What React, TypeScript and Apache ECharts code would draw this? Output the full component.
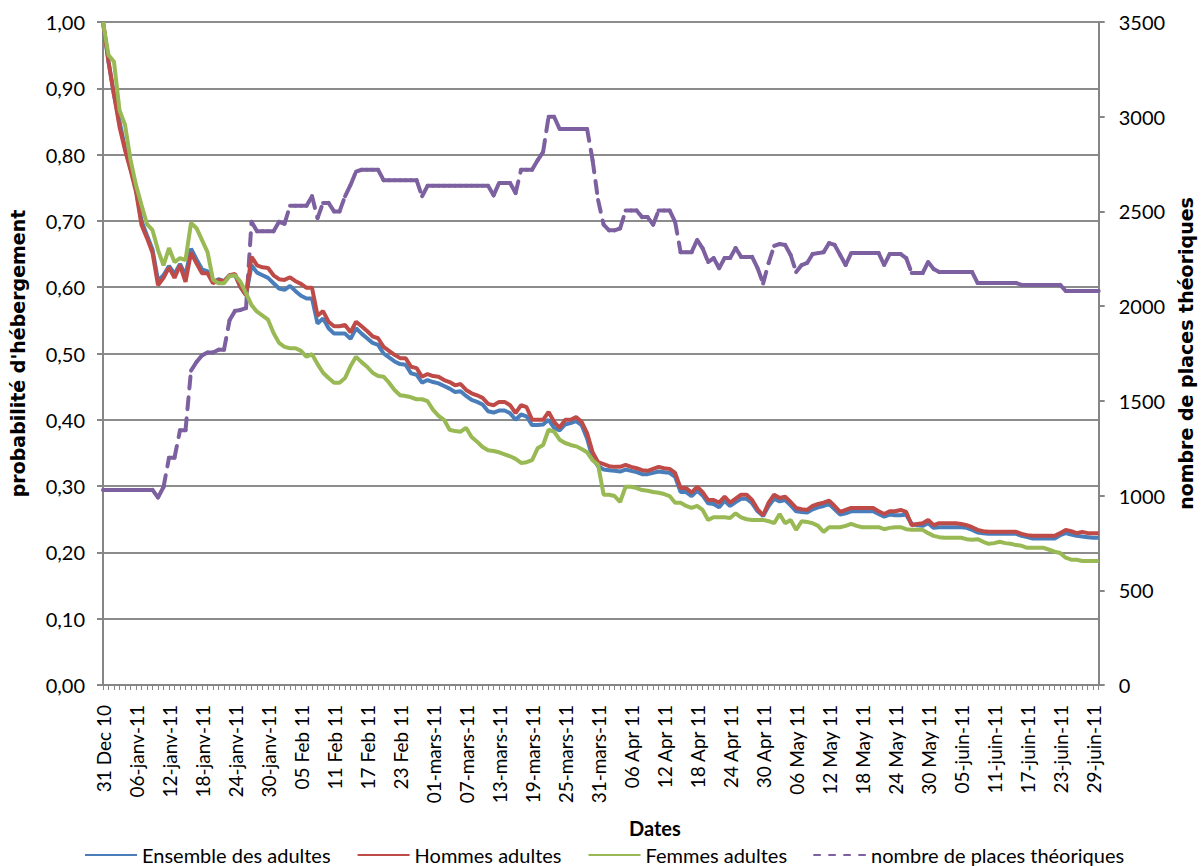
import React, { useEffect, useRef } from "react";
import * as echarts from "echarts";

const tickLabels = [
  "31 Dec 10", "06-janv-11", "12-janv-11", "18-janv-11", "24-janv-11", "30-janv-11",
  "05 Feb 11", "11 Feb 11", "17 Feb 11", "23 Feb 11", "01-mars-11", "07-mars-11",
  "13-mars-11", "19-mars-11", "25-mars-11", "31-mars-11", "06 Apr 11", "12 Apr 11",
  "18 Apr 11", "24 Apr 11", "30 Apr 11", "06 May 11", "12 May 11", "18 May 11",
  "24 May 11", "30 May 11", "05-juin-11", "11-juin-11", "17-juin-11", "23-juin-11",
  "29-juin-11",
];

const ensemble = [
  1.00, 0.94, 0.89, 0.85, 0.81, 0.78, 0.748, 0.70, 0.678, 0.657,
  0.61, 0.618, 0.632, 0.62, 0.635, 0.618, 0.658, 0.642, 0.627, 0.624,
  0.608, 0.612, 0.609, 0.618, 0.618, 0.600, 0.588, 0.633, 0.622, 0.618,
  0.614, 0.606, 0.598, 0.596, 0.602, 0.594, 0.587, 0.583, 0.583, 0.545,
  0.553, 0.538, 0.530, 0.530, 0.530, 0.522, 0.538, 0.530, 0.523, 0.516,
  0.513, 0.500, 0.494, 0.488, 0.484, 0.483, 0.470, 0.468, 0.456, 0.460,
  0.457, 0.455, 0.451, 0.447, 0.442, 0.443, 0.436, 0.430, 0.427, 0.423,
  0.413, 0.411, 0.414, 0.414, 0.410, 0.400, 0.408, 0.405, 0.392, 0.392,
  0.393, 0.400, 0.388, 0.384, 0.393, 0.395, 0.398, 0.392, 0.372, 0.342,
  0.330, 0.325, 0.324, 0.323, 0.322, 0.325, 0.323, 0.321, 0.318, 0.318,
  0.320, 0.322, 0.321, 0.320, 0.314, 0.291, 0.291, 0.285, 0.293, 0.286,
  0.274, 0.273, 0.268, 0.278, 0.270, 0.276, 0.281, 0.281, 0.274, 0.262,
  0.255, 0.270, 0.281, 0.277, 0.279, 0.271, 0.262, 0.261, 0.260, 0.265,
  0.268, 0.270, 0.273, 0.265, 0.257, 0.259, 0.262, 0.262, 0.262, 0.262,
  0.262, 0.258, 0.254, 0.257, 0.256, 0.256, 0.257, 0.243, 0.241, 0.240,
  0.244, 0.237, 0.238, 0.238, 0.238, 0.238, 0.238, 0.237, 0.234, 0.230,
  0.229, 0.228, 0.228, 0.228, 0.228, 0.228, 0.228, 0.225, 0.223, 0.221,
  0.221, 0.221, 0.221, 0.221, 0.226, 0.229, 0.227, 0.225, 0.224, 0.223,
  0.222, 0.222,
];

const hommes = [
  1.00, 0.94, 0.89, 0.842, 0.807, 0.777, 0.744, 0.694, 0.674, 0.652,
  0.603, 0.614, 0.630, 0.614, 0.633, 0.608, 0.652, 0.636, 0.621, 0.621,
  0.606, 0.611, 0.609, 0.618, 0.620, 0.600, 0.588, 0.646, 0.633, 0.630,
  0.629, 0.618, 0.612, 0.611, 0.615, 0.609, 0.605, 0.599, 0.599, 0.557,
  0.564, 0.548, 0.541, 0.541, 0.543, 0.532, 0.548, 0.541, 0.534, 0.526,
  0.523, 0.510, 0.504, 0.498, 0.493, 0.493, 0.480, 0.478, 0.465, 0.469,
  0.466, 0.465, 0.460, 0.457, 0.452, 0.454, 0.445, 0.440, 0.437, 0.433,
  0.424, 0.422, 0.427, 0.427, 0.422, 0.410, 0.422, 0.419, 0.400, 0.400,
  0.400, 0.412, 0.397, 0.388, 0.400, 0.400, 0.404, 0.397, 0.380, 0.351,
  0.336, 0.333, 0.330, 0.329, 0.329, 0.332, 0.329, 0.327, 0.324, 0.323,
  0.326, 0.329, 0.327, 0.326, 0.320, 0.297, 0.297, 0.290, 0.299, 0.291,
  0.279, 0.279, 0.275, 0.284, 0.275, 0.281, 0.287, 0.287, 0.279, 0.265,
  0.256, 0.275, 0.287, 0.282, 0.284, 0.276, 0.267, 0.265, 0.264, 0.270,
  0.273, 0.275, 0.278, 0.270, 0.261, 0.264, 0.267, 0.267, 0.267, 0.267,
  0.267, 0.262, 0.258, 0.262, 0.262, 0.264, 0.261, 0.241, 0.243, 0.244,
  0.249, 0.241, 0.244, 0.244, 0.244, 0.244, 0.243, 0.241, 0.238, 0.234,
  0.232, 0.231, 0.231, 0.231, 0.231, 0.231, 0.231, 0.228, 0.226, 0.225,
  0.225, 0.225, 0.225, 0.225, 0.229, 0.234, 0.232, 0.229, 0.231, 0.229,
  0.229, 0.229,
];

const femmes = [
  1.00, 0.95, 0.94, 0.867, 0.845, 0.792, 0.754, 0.724, 0.695, 0.686,
  0.656, 0.633, 0.659, 0.638, 0.644, 0.641, 0.697, 0.689, 0.671, 0.653,
  0.611, 0.606, 0.606, 0.617, 0.618, 0.608, 0.591, 0.573, 0.563, 0.557,
  0.551, 0.531, 0.516, 0.510, 0.508, 0.508, 0.504, 0.495, 0.499, 0.484,
  0.471, 0.463, 0.456, 0.456, 0.463, 0.481, 0.495, 0.487, 0.480, 0.471,
  0.466, 0.465, 0.456, 0.445, 0.437, 0.436, 0.434, 0.431, 0.431, 0.428,
  0.415, 0.406, 0.400, 0.385, 0.383, 0.382, 0.388, 0.374, 0.367, 0.359,
  0.354, 0.353, 0.351, 0.348, 0.345, 0.341, 0.335, 0.336, 0.339, 0.357,
  0.362, 0.385, 0.382, 0.370, 0.365, 0.362, 0.360, 0.356, 0.351, 0.339,
  0.332, 0.287, 0.287, 0.285, 0.276, 0.299, 0.299, 0.297, 0.294, 0.293,
  0.291, 0.290, 0.288, 0.285, 0.275, 0.275, 0.270, 0.267, 0.270, 0.264,
  0.249, 0.253, 0.253, 0.253, 0.252, 0.259, 0.253, 0.250, 0.249, 0.249,
  0.249, 0.247, 0.244, 0.258, 0.244, 0.249, 0.234, 0.247, 0.246, 0.244,
  0.240, 0.231, 0.238, 0.238, 0.238, 0.240, 0.243, 0.240, 0.238, 0.238,
  0.238, 0.238, 0.235, 0.237, 0.238, 0.238, 0.235, 0.234, 0.234, 0.234,
  0.229, 0.225, 0.223, 0.222, 0.222, 0.222, 0.222, 0.220, 0.219, 0.220,
  0.216, 0.213, 0.214, 0.216, 0.214, 0.213, 0.211, 0.210, 0.207, 0.207,
  0.207, 0.207, 0.204, 0.201, 0.199, 0.192, 0.189, 0.189, 0.187, 0.187,
  0.187, 0.187,
];

const places = [
  1030, 1030, 1030, 1030, 1030, 1030, 1030, 1030, 1030, 1030,
  990, 1045, 1200, 1200, 1345, 1345, 1660, 1705, 1740, 1755,
  1755, 1770, 1770, 1925, 1975, 1980, 1990, 2445, 2395, 2395,
  2395, 2395, 2445, 2435, 2530, 2530, 2530, 2530, 2580, 2465,
  2545, 2545, 2500, 2500, 2580, 2640, 2710, 2720, 2720, 2720,
  2720, 2665, 2665, 2665, 2665, 2665, 2665, 2665, 2580, 2635,
  2635, 2635, 2635, 2635, 2635, 2635, 2635, 2635, 2635, 2635,
  2635, 2585, 2650, 2650, 2650, 2597, 2720, 2720, 2720, 2770,
  2814, 3000, 3000, 2935, 2935, 2935, 2935, 2935, 2935, 2770,
  2560, 2430, 2400, 2400, 2410, 2505, 2505, 2505, 2470, 2470,
  2430, 2505, 2505, 2505, 2445, 2285, 2285, 2285, 2350, 2305,
  2233, 2254, 2200, 2254, 2254, 2307, 2260, 2260, 2260, 2200,
  2120, 2228, 2318, 2328, 2323, 2270, 2180, 2217, 2228, 2275,
  2280, 2285, 2333, 2323, 2270, 2217, 2280, 2280, 2280, 2280,
  2280, 2280, 2217, 2275, 2275, 2275, 2254, 2175, 2175, 2175,
  2233, 2196, 2180, 2180, 2180, 2180, 2180, 2180, 2180, 2122,
  2122, 2122, 2122, 2122, 2122, 2122, 2122, 2112, 2112, 2112,
  2112, 2112, 2112, 2112, 2112, 2080, 2080, 2080, 2080, 2080,
  2080, 2080,
];

// one category per day, starting 31 Dec 2010
const startDate = new Date(Date.UTC(2010, 11, 31));
const dates = places.map((_, i) => {
  const d = new Date(startDate.getTime() + i * 86400000);
  return d.toISOString().slice(0, 10);
});

const FONT = "Lato";
const TITLE_FONT = "DejaVu Sans";
const AXIS_GRAY = "#868686";
const PURPLE = "#7D60A0";
const PLACES_NAME = "nombre de places théoriques";
const W = 1203;
const H = 866;

export default function App() {
  const ref = useRef<HTMLDivElement>(null);

  useEffect(() => {
    if (!ref.current) return;
    document.documentElement.style.overflow = "hidden";
    document.body.style.overflow = "hidden";
    document.body.style.margin = "0";
    const chart = echarts.init(ref.current, null, { renderer: "svg", width: W, height: H });
    chart.setOption({
      animation: false,
      backgroundColor: "#ffffff",
      textStyle: { fontFamily: FONT, color: "#000" },
      grid: { left: 103, right: 95, top: 22, bottom: 181, containLabel: false },
      legend: {
        top: 840,
        left: 79,
        itemWidth: 52,
        itemHeight: 4,
        itemGap: 26,
        itemStyle: { opacity: 0 },
        textStyle: { fontFamily: FONT, fontSize: 20, color: "#000" },
        data: ["Ensemble des adultes", "Hommes adultes", "Femmes adultes", PLACES_NAME],
      },
      xAxis: {
        type: "category",
        data: dates,
        boundaryGap: false,
        name: "Dates",
        nameLocation: "middle",
        nameGap: 133,
        nameTextStyle: {
          fontFamily: FONT,
          fontWeight: "bold",
          fontSize: 20,
          color: "#000",
          padding: [0, 0, 0, 108],
        },
        axisLine: { show: true, lineStyle: { color: AXIS_GRAY, width: 2 } },
        axisTick: {
          show: true,
          interval: 0,
          length: 5,
          lineStyle: { color: AXIS_GRAY, width: 1 },
        },
        axisLabel: {
          interval: 5,
          rotate: 90,
          margin: 20,
          fontFamily: FONT,
          fontSize: 19,
          color: "#000",
          formatter: (_v: string, idx: number) => tickLabels[Math.round(idx / 6)] ?? "",
        },
        splitLine: { show: false },
      },
      yAxis: [
        {
          type: "value",
          min: 0,
          max: 1,
          interval: 0.1,
          position: "left",
          name: "probabilité d'hébergement",
          nameLocation: "middle",
          nameRotate: 90,
          nameGap: 76,
          nameTextStyle: { fontFamily: TITLE_FONT, fontWeight: "bold", fontSize: 19, color: "#000" },
          axisLine: { show: true, lineStyle: { color: AXIS_GRAY, width: 2 } },
          axisTick: { show: true, length: 6, lineStyle: { color: AXIS_GRAY, width: 2 } },
          axisLabel: {
            fontFamily: FONT,
            fontSize: 20,
            color: "#000",
            margin: 18,
            formatter: (v: number) => v.toFixed(2).replace(".", ","),
          },
          splitLine: { show: true, lineStyle: { color: "#8c8c8c", width: 2 } },
        },
        {
          type: "value",
          min: 0,
          max: 3500,
          interval: 500,
          position: "right",
          name: PLACES_NAME,
          nameLocation: "middle",
          nameRotate: 90,
          nameGap: 74,
          nameTextStyle: { fontFamily: TITLE_FONT, fontWeight: "bold", fontSize: 19, color: "#000" },
          axisLine: { show: true, lineStyle: { color: AXIS_GRAY, width: 2 } },
          axisTick: { show: true, length: 6, lineStyle: { color: AXIS_GRAY, width: 2 } },
          axisLabel: {
            fontFamily: FONT,
            fontSize: 20,
            color: "#000",
            margin: 20,
            formatter: (v: number) => String(v),
          },
          splitLine: { show: false },
        },
      ],
      series: [
        {
          name: "Ensemble des adultes",
          type: "line",
          yAxisIndex: 0,
          data: ensemble,
          symbol: "none",
          lineStyle: { color: "#4A7EBB", width: 4 },
          itemStyle: { color: "#4A7EBB" },
        },
        {
          name: "Hommes adultes",
          type: "line",
          yAxisIndex: 0,
          data: hommes,
          symbol: "none",
          lineStyle: { color: "#BE4B48", width: 4 },
          itemStyle: { color: "#BE4B48" },
        },
        {
          name: "Femmes adultes",
          type: "line",
          yAxisIndex: 0,
          data: femmes,
          symbol: "none",
          lineStyle: { color: "#98B954", width: 4 },
          itemStyle: { color: "#98B954" },
        },
        {
          // legend entry (dashed line icon) for the places series
          name: PLACES_NAME,
          type: "line",
          yAxisIndex: 1,
          data: [],
          symbol: "none",
          lineStyle: { color: PURPLE, width: 4, type: [6, 9], cap: "round" },
          itemStyle: { color: PURPLE },
        },
        {
          // places series: each day-to-day segment drawn with its own dash pattern
          name: PLACES_NAME,
          type: "custom",
          yAxisIndex: 1,
          data: places.map((v, i) => [i, v, i + 1 < places.length ? places[i + 1] : v]),
          encode: { x: 0, y: 1 },
          renderItem: (_params: any, api: any) => {
            const i = api.value(0);
            if (i >= places.length - 1) return null;
            const p0 = api.coord([i, api.value(1)]);
            const p1 = api.coord([i + 1, api.value(2)]);
            return {
              type: "line",
              shape: { x1: p0[0], y1: p0[1], x2: p1[0], y2: p1[1] },
              style: {
                stroke: PURPLE,
                lineWidth: 4,
                lineDash: [12, 9],
                lineCap: "round",
                fill: null,
              },
            };
          },
        },
      ],
    });
    return () => chart.dispose();
  }, []);

  return (
    <div
      ref={ref}
      style={{ position: "fixed", left: 0, top: 0, width: W, height: H, background: "#fff" }}
    />
  );
}
